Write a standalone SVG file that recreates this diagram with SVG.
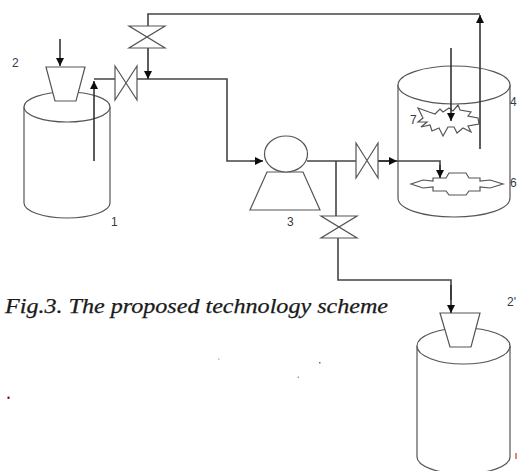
<svg xmlns="http://www.w3.org/2000/svg" width="517" height="471" viewBox="0 0 517 471">
<style>
.s{fill:#fff;stroke:#555;stroke-width:1.2}
.n{fill:none;stroke:#555;stroke-width:1.2}
.p{fill:none;stroke:#444;stroke-width:1.6}
.a{fill:none;stroke:#333;stroke-width:1.6;marker-end:url(#h)}
.l{font-family:"Liberation Sans",Arial,sans-serif;font-size:12px;fill:#3a3a44}
.c{font-family:"Liberation Serif","Times New Roman",serif;font-size:20px;font-style:italic;fill:#1a1a1a;stroke:#1a1a1a;stroke-width:.25}
</style>
<defs>
<marker id="h" markerUnits="userSpaceOnUse" markerWidth="10" markerHeight="10" refX="8" refY="4" orient="auto"><path d="M0 0L8 4L0 8Z" fill="#111"/></marker>
<filter id="b" x="-5%" y="-5%" width="110%" height="110%"><feGaussianBlur stdDeviation="0.4"/></filter>
</defs>
<rect width="517" height="471" fill="#fff"/>
<g filter="url(#b)">
<g id="tank1">
<path class="s" d="M24 107V203C24 211 43 218 67 218C91 218 110 211 110 203V107"/>
<ellipse class="s" cx="67" cy="107" rx="43" ry="15"/>
</g>
<g id="funnel2"><path class="s" d="M46 67H85L76 101H55Z"/></g>
<g id="tank4">
<path class="s" d="M398 85V198C398 209 423 217 454 217C485 217 510 209 510 198V85"/>
<ellipse class="s" cx="454" cy="85" rx="56" ry="19"/>
</g>
<g id="mixer7"><path class="n" d="M418 108L429 112L435 114L440 109L443 112L449 108L453 111L458 105L460 110L471 112L468 116L478 118L479 124L468 126L471 132L463 128L457 133L454 127L448 127L443 136L439 128L432 131L430 125L421 127L427 122L418 122L423 118Z"/></g>
<g id="mixer6"><path class="n" d="M433 178H446L449 173H466L469 178H480V181L490 180L503 184L490 188L480 187V191H469L466 195H449L446 191H433V187L423 188L411 184L423 180L433 181Z"/></g>
<g id="pump3">
<path class="s" d="M267 172H303L320 210H250Z"/>
<ellipse class="s" cx="286" cy="154" rx="21.500" ry="18"/>
</g>
<g id="tank2p">
<path class="s" d="M417 346V457C417 466 438 474 463 474C489 474 510 466 510 457V346"/>
<ellipse class="s" cx="463.500" cy="346" rx="46.500" ry="18"/>
</g>
<g id="funnel2p"><path class="s" d="M440 313H480L471 347H450Z"/></g>
<g id="connectors">
<path class="p" d="M94 79H115M137 79H227V161H250M148 26V14H480M307 161H356M378 161H390M397 161H440V170M336 161V216M338 238V280H451V300"/>
<path class="a" d="M60 39V66"/>
<path class="a" d="M94 161V81"/>
<path class="a" d="M148 48V79"/>
<path class="a" d="M250 161H263"/>
<path class="a" d="M378 161H397"/>
<path class="a" d="M440 165V178"/>
<path class="a" d="M451 285V313"/>
<path class="a" d="M451 48V121"/>
<path class="a" d="M480 149V15"/>
</g>
<g id="valve-top"><path class="s" d="M129 26H165L129 48H165Z"/></g>
<g id="valve-left"><path class="s" d="M115 66L137 100V66L115 100Z"/></g>
<g id="valve-right"><path class="s" d="M356 143L378 178V143L356 178Z"/></g>
<g id="valve-bottom"><path class="s" d="M321 216H357L321 238H357Z"/></g>
</g>
<g id="labels">
<text class="l" x="12" y="67">2</text>
<text class="l" x="111" y="226">1</text>
<text class="l" x="287" y="226">3</text>
<text class="l" x="510" y="106">4</text>
<text class="l" x="510" y="187">6</text>
<text class="l" x="410" y="124">7</text>
<text class="l" x="507" y="306">2'</text>
<text class="c" x="5" y="313" textLength="383" lengthAdjust="spacingAndGlyphs">Fig.3. The proposed technology scheme</text>
</g>
<g id="specks">
<rect x="218" y="358.500" width="1.500" height="1.500" fill="#e9a5a5"/>
<rect x="319" y="362" width="1.500" height="1.500" fill="#3a6fc0"/>
<rect x="297.500" y="376.500" width="1.500" height="1.500" fill="#e09040"/>
<rect x="7.500" y="396.500" width="2" height="2.500" fill="#7a1020"/>
<rect x="515" y="453" width="2" height="6" fill="#e08a70"/>
</g>
</svg>
